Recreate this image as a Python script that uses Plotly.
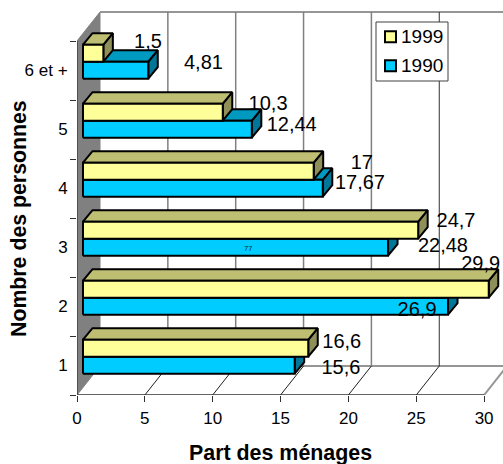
import plotly.graph_objects as go

# Household size categories, bottom to top
categories = ["1", "2", "3", "4", "5", "6 et +"]
share_1999 = [16.6, 29.9, 24.7, 17, 10.3, 1.5]
share_1990 = [15.6, 26.9, 22.48, 17.67, 12.44, 4.81]
labels_1999 = ["16,6", "29,9", "24,7", "17", "10,3", "1,5"]
labels_1990 = ["15,6", "26,9", "22,48", "17,67", "12,44", "4,81"]
x_ticks = [0, 5, 10, 15, 20, 25, 30]

# Hand-placed data label offsets (x from bar end, y from category base)
label_dx_1999 = [2.91, -0.15, 3.23, 3.99, 3.78, 3.73]
label_dy_1999 = [0.92, 1.237, 0.966, 0.95, 0.95, 1.005]
label_dx_1990 = [3.85, -1.84, 4.49, 3.18, 3.38, 4.51]
label_dy_1990 = [0.48, 0.458, 0.542, 0.615, 0.593, 0.649]

# Plot scale and pseudo-3D geometry, in axis units
W, H = 503, 464
LEFT, BOTTOM, TOP = 77, 69, 10
PX_X = 13.57
PX_Y = 59.0
PLOT_W, PLOT_H = W - LEFT, H - BOTTOM - TOP
WALL_DX, WALL_DY = 23 / PX_X, 29 / PX_Y
BAR_DX, BAR_DY = 9.5 / PX_X, 11.5 / PX_Y
BAR_START = 6 / PX_X
BAR_H = 17 / PX_Y
BAR_BASE = 21.3 / PX_Y
LABEL_NUDGE = 2 / PX_Y
X_MAX = PLOT_W / PX_X
Y_MAX = PLOT_H / PX_Y
N = len(categories)
X_END = x_ticks[-1]

fig = go.Figure()


def paper_x(px):
    return (px - LEFT) / PLOT_W


def paper_y(py):
    return (H - BOTTOM - py) / PLOT_H


def poly(xs, ys, fill, line="black", width=2):
    fig.add_trace(go.Scatter(
        x=list(xs) + [xs[0]], y=list(ys) + [ys[0]], mode="lines", fill="toself",
        fillcolor=fill, line=dict(color=line, width=width, shape="linear"),
        hoverinfo="skip", cliponaxis=False, showlegend=False))


def seg(xs, ys, color, width=1):
    fig.add_trace(go.Scatter(
        x=xs, y=ys, mode="lines", line=dict(color=color, width=width),
        hoverinfo="skip", showlegend=False, cliponaxis=False))


# Side wall, back wall lines and floor
poly([0, WALL_DX, WALL_DX, 0], [N, N + WALL_DY, WALL_DY, 0], "#808080", line="#808080", width=1)
seg([WALL_DX, X_MAX], [N + WALL_DY] * 2, "#969696", 2)
seg([WALL_DX, X_MAX], [WALL_DY] * 2, "#969696", 2)
seg([X_END, X_END + WALL_DX], [0, WALL_DY], "#969696", 2)
for t in x_ticks[1:-1]:
    seg([t + WALL_DX] * 2, [WALL_DY, N + WALL_DY], "#808080" if t < 25 else "#303030", 1.5 if t < 25 else 1)
    seg([t, t + WALL_DX], [0, WALL_DY], "#202020", 1)
seg([0, X_END], [0, 0], "#303030", 1.5)
seg([0, 0], [0, N], "#404040", 1.5)


def bar(value, base, front, top, side):
    x0, x1 = BAR_START, BAR_START + value
    y0, y1 = base, base + BAR_H
    poly([x1, x1 + BAR_DX, x1 + BAR_DX, x1], [y0, y0 + BAR_DY, y1 + BAR_DY, y1], side)
    poly([x0, x0 + BAR_DX, x1 + BAR_DX, x1], [y1, y1 + BAR_DY, y1 + BAR_DY, y1], top)
    poly([x0, x1, x1, x0], [y0, y0, y1, y1], front)


# Bars are painted from the top category down so nearer tops overlap correctly
for i in range(N - 1, -1, -1):
    bar(share_1990[i], i + BAR_BASE, "#00CCFF", "#0099BF", "#007799")
    bar(share_1999[i], i + BAR_BASE + BAR_H, "#FFFF99", "#BFBF73", "#8F8F5A")

# Data labels
for vals, dxs, dys, texts in [(share_1999, label_dx_1999, label_dy_1999, labels_1999),
                              (share_1990, label_dx_1990, label_dy_1990, labels_1990)]:
    fig.add_trace(go.Scatter(
        x=[v + d for v, d in zip(vals, dxs)],
        y=[i + d - LABEL_NUDGE for i, d in enumerate(dys)],
        mode="text", text=texts, textposition="middle center",
        textfont=dict(family="Liberation Sans", size=20, color="black"),
        hoverinfo="skip", showlegend=False, cliponaxis=False))

# Legend box and swatches
legend_shapes = [dict(type="rect", xref="paper", yref="paper",
                      x0=paper_x(376), x1=paper_x(448), y0=paper_y(81), y1=paper_y(22),
                      fillcolor="white", line=dict(color="#404040", width=1))]
legend_notes = []
for name, color, cy in [("1999", "#FFFF99", 36.8), ("1990", "#00CCFF", 65.8)]:
    legend_shapes.append(dict(type="rect", xref="paper", yref="paper",
                              x0=paper_x(385), x1=paper_x(396), y0=paper_y(cy + 5.5), y1=paper_y(cy - 5.5),
                              fillcolor=color, line=dict(color="black", width=2)))
    legend_notes.append(dict(text=name, xref="paper", yref="paper", x=paper_x(399), y=paper_y(cy),
                             showarrow=False, xanchor="left", yanchor="middle", font=dict(size=19)))

# Small stray mark inside the 1990 bar of category 3
stray_notes = [dict(text="77", x=(248 - LEFT) / PX_X, y=(H - BOTTOM - 248) / PX_Y, showarrow=False,
                    font=dict(size=7.5, color="#003344"))]

fig.update_layout(
    width=W, height=H,
    margin=dict(l=LEFT, r=0, t=TOP, b=BOTTOM, autoexpand=False),
    paper_bgcolor="white", plot_bgcolor="white",
    showlegend=False,
    font=dict(family="Liberation Sans", color="black"),
    xaxis=dict(range=[0, X_MAX], tickvals=x_ticks, ticks="outside", ticklen=6, tickcolor="#303030",
               showgrid=False, zeroline=False, showline=False, tickfont=dict(size=17),
               ticklabelstandoff=2),
    yaxis=dict(range=[0, Y_MAX], tickvals=[i + 0.5 for i in range(N)], ticktext=categories,
               ticks="outside", ticklen=2, tickcolor="rgba(0,0,0,0)",
               minor=dict(tickvals=list(range(N + 1)), ticks="outside", ticklen=6, tickcolor="#303030"),
               showgrid=False, zeroline=False, showline=False, tickfont=dict(size=17),
               ticklabelstandoff=3),
    shapes=legend_shapes,
    annotations=legend_notes + stray_notes + [
        dict(text="<b>Part des ménages</b>", xref="paper", yref="paper", x=paper_x(280), y=paper_y(452.5),
             showarrow=False, xanchor="center", yanchor="middle", font=dict(size=21.4)),
        dict(text="<b>Nombre des personnes</b>", xref="paper", yref="paper", x=paper_x(19), y=paper_y(219),
             showarrow=False, textangle=-90, xanchor="center", yanchor="middle", font=dict(size=21.3)),
    ],
)

fig.write_html("out.html", config={"displayModeBar": False})
